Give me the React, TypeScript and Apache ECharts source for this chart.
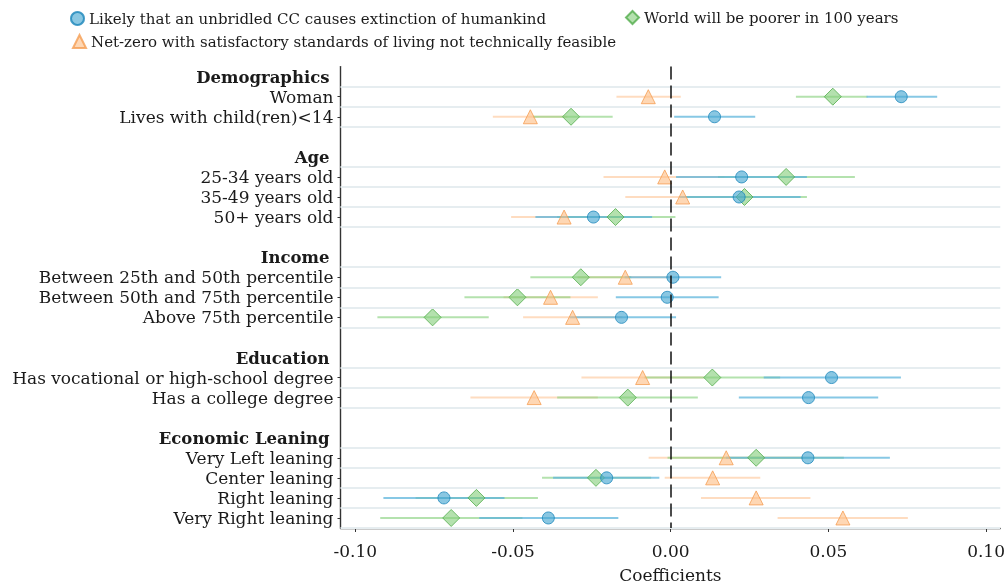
import React, { useEffect, useRef } from "react";
import * as echarts from "echarts";

const groupTitles = ["Demographics", "Age", "Income", "Education", "Economic Leaning"];
const groupItems = [
  ["Woman", "Lives with child(ren)<14"],
  ["25-34 years old", "35-49 years old", "50+ years old"],
  ["Between 25th and 50th percentile", "Between 50th and 75th percentile", "Above 75th percentile"],
  ["Has vocational or high-school degree", "Has a college degree"],
  ["Very Left leaning", "Center leaning", "Right leaning", "Very Right leaning"],
];

const seriesNames = [
  "Likely that an unbridled CC causes extinction of humankind",
  "World will be poorer in 100 years",
  "Net-zero with satisfactory standards of living not technically feasible",
];

// Extinction (blue circles)
const extinctionCoef = [0.0731, 0.0139, 0.0225, 0.0217, -0.0245, 0.0007, -0.0011, -0.0156, 0.051, 0.0437, 0.0435, -0.0203, -0.0719, -0.0388];
const extinctionLo = [0.0621, 0.0011, 0.0017, 0.0028, -0.0429, -0.0146, -0.0174, -0.032, 0.0295, 0.0216, 0.0175, -0.0373, -0.0911, -0.0607];
const extinctionHi = [0.0845, 0.0268, 0.0432, 0.0412, -0.0059, 0.016, 0.0152, 0.0017, 0.073, 0.0658, 0.0695, -0.0036, -0.0527, -0.0166];

// Poorer (green diamonds)
const poorerCoef = [0.0514, -0.0316, 0.0366, 0.0234, -0.0175, -0.0285, -0.0486, -0.0755, 0.0132, -0.0136, 0.0271, -0.0237, -0.0616, -0.0696];
const poorerLo = [0.0397, -0.0436, 0.015, 0.005, -0.036, -0.0445, -0.0654, -0.093, -0.0083, -0.036, -0.001, -0.0408, -0.0809, -0.0921];
const poorerHi = [0.0624, -0.0184, 0.0584, 0.0432, 0.0015, -0.0125, -0.0318, -0.0577, 0.0347, 0.0086, 0.0549, -0.0062, -0.0421, -0.047];

// Net-zero (orange triangles)
const netzeroCoef = [-0.0071, -0.0445, -0.0019, 0.0038, -0.0338, -0.0144, -0.0381, -0.0311, -0.0089, -0.0433, 0.0176, 0.0133, 0.0271, 0.0546];
const netzeroLo = [-0.0172, -0.0564, -0.0213, -0.0144, -0.0506, -0.0295, -0.053, -0.0468, -0.0283, -0.0635, -0.007, -0.0019, 0.0096, 0.0339];
const netzeroHi = [0.0032, -0.0328, 0.017, 0.022, -0.017, 0.0001, -0.0231, -0.0153, 0.0105, -0.0231, 0.042, 0.0284, 0.0443, 0.0752];

const xTicks = [-0.1, -0.05, 0, 0.05, 0.1];

const FONT = "DejaVu Serif";

export default function App() {
  const ref = useRef<HTMLDivElement>(null);
  useEffect(() => {
    if (!ref.current) return;
    const chart = echarts.init(ref.current, undefined, { renderer: "svg" });

    // slots
    const headerSlots: number[] = [];
    const itemSlots: number[] = [];
    const itemNames: string[] = [];
    const boundaries: number[] = [];
    let s = 0;
    groupTitles.forEach((t, g) => {
      headerSlots.push(s);
      boundaries.push(s + 0.5);
      groupItems[g].forEach((it) => {
        s++;
        itemSlots.push(s);
        itemNames.push(it);
        boundaries.push(s + 0.5);
      });
      s += 2;
    });
    const maxSlot = itemSlots[itemSlots.length - 1];
    const labelMap: Record<string, string> = {};
    const headerOffset = 0.04;
    headerSlots.forEach((h, i) => {
      labelMap[(h + headerOffset).toFixed(2)] = "{h|" + groupTitles[i] + "}";
    });
    itemSlots.forEach((v, i) => {
      labelMap[v.toFixed(2)] = itemNames[i];
    });
    const labelValues = [...headerSlots.map((h) => h + headerOffset), ...itemSlots];

    const styles = [
      { symbol: "circle", size: 12, fill: "rgba(72,168,210,0.8)", border: "#1b86ba", line: "rgba(95,182,220,0.75)" },
      { symbol: "diamond", size: 17, fill: "rgba(130,205,120,0.75)", border: "#52ad4c", line: "rgba(140,210,130,0.65)" },
      { symbol: "triangle", size: 14, fill: "rgba(253,188,130,0.75)", border: "#f59d52", line: "rgba(253,196,150,0.6)" },
    ];
    const coefs = [extinctionCoef, poorerCoef, netzeroCoef];
    const los = [extinctionLo, poorerLo, netzeroLo];
    const his = [extinctionHi, poorerHi, netzeroHi];

    const barSeries = [2, 1, 0].map((k) => ({
      type: "custom",
      name: "ci" + k,
      z: 2,
      encode: { x: [0, 1], y: 2 },
      data: itemSlots.map((y, i) => [los[k][i], his[k][i], y]),
      renderItem: (params: any, api: any) => {
        const p1 = api.coord([api.value(0), api.value(2)]);
        const p2 = api.coord([api.value(1), api.value(2)]);
        return {
          type: "line",
          shape: { x1: p1[0], y1: p1[1], x2: p2[0], y2: p2[1] },
          style: { stroke: styles[k].line, lineWidth: 2 },
        };
      },
    }));

    const pointSeries = [2, 1, 0].map((k) => ({
      type: "scatter",
      name: seriesNames[k],
      z: 3,
      symbol: styles[k].symbol,
      symbolSize: styles[k].size,
      itemStyle: { color: styles[k].fill, borderColor: styles[k].border, borderWidth: 1 },
      data: itemSlots.map((y, i) => [coefs[k][i], y]),
    }));

    const legendText = { fontFamily: FONT, fontSize: 15, color: "#1a1a1a" };
    const legendBase = { itemWidth: 13, itemHeight: 13, itemGap: 10, textStyle: legendText, selectedMode: false };

    chart.setOption({
      animation: false,
      legend: [
        { ...legendBase, left: 65, top: 6, data: [seriesNames[0]] },
        { ...legendBase, left: 620, top: 5, data: [seriesNames[1]] },
        { ...legendBase, left: 67, top: 29, data: [seriesNames[2]] },
      ],
      grid: { left: 340.5, right: 5, top: 66.6, bottom: 59.7, containLabel: false },
      xAxis: {
        type: "value",
        position: "bottom",
        min: -0.1047,
        max: 0.1045,
        splitLine: { show: false },
        axisLine: { show: true, onZero: false, lineStyle: { color: "#333", width: 1.4 } },
        axisTick: { show: true, customValues: xTicks, length: 4, lineStyle: { color: "#333" } },
        axisLabel: {
          customValues: xTicks,
          formatter: (v: number) => v.toFixed(2),
          fontFamily: FONT,
          fontSize: 17,
          color: "#1a1a1a",
          margin: 14,
        },
        name: "Coefficients",
        nameLocation: "middle",
        nameGap: 38,
        nameTextStyle: { fontFamily: FONT, fontSize: 17, color: "#1a1a1a" },
      },
      yAxis: {
        type: "value",
        position: "left",
        inverse: true,
        min: -0.5,
        max: maxSlot + 0.5,
        splitLine: { show: false },
        axisLine: { show: true, onZero: false, lineStyle: { color: "#333", width: 1.4 } },
        axisTick: { show: true, customValues: itemSlots, length: 3, lineStyle: { color: "#333" } },
        axisLabel: {
          customValues: labelValues,
          formatter: (v: number) => labelMap[v.toFixed(2)] ?? "",
          fontFamily: FONT,
          fontSize: 17,
          color: "#1a1a1a",
          margin: 7,
          rich: {
            h: { fontFamily: FONT, fontSize: 16.5, fontWeight: "bold", color: "#1a1a1a", padding: [0, 4, 0, 0] },
          },
        },
      },
      series: [
        {
          type: "scatter",
          name: "grid",
          z: 1,
          data: [],
          silent: true,
          markLine: {
            silent: true,
            symbol: "none",
            label: { show: false },
            lineStyle: { color: "#e6edf0", width: 2, type: "solid" },
            data: boundaries.map((b) => ({ yAxis: b })),
          },
        },
        ...barSeries,
        ...pointSeries,
        {
          type: "scatter",
          name: "zero",
          z: 10,
          data: [],
          silent: true,
          markLine: {
            silent: true,
            symbol: "none",
            label: { show: false },
            lineStyle: { color: "#111", width: 1.5, type: [13, 6] },
            data: [{ xAxis: 0 }],
          },
        },
      ],
    });
    return () => chart.dispose();
  }, []);
  return <div ref={ref} style={{ position: "fixed", left: 0, top: 0, width: 1008, height: 588 }} />;
}
